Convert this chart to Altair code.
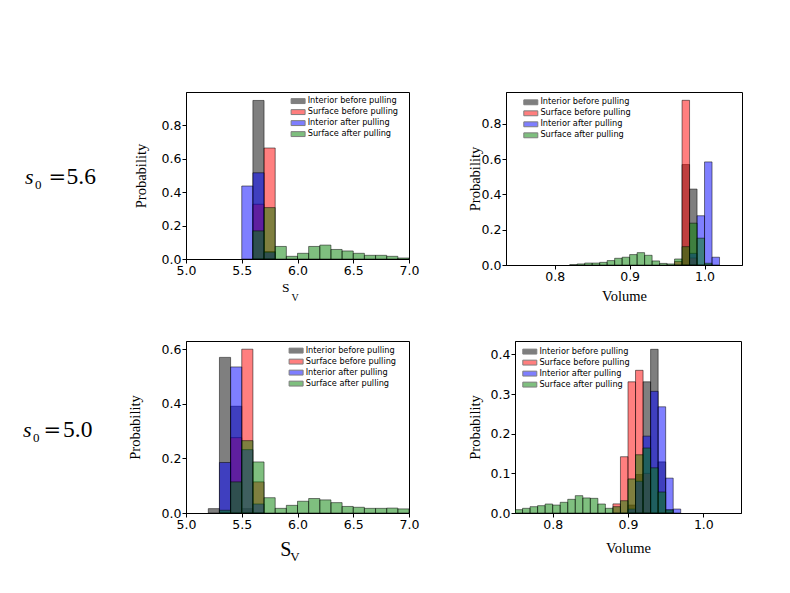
import altair as alt
import pandas as pd

SERIES = ["Interior before pulling", "Surface before pulling",
          "Interior after pulling", "Surface after pulling"]
FILLS = ["black", "red", "blue", "green"]

# ---- Panel A: S_V, s0 = 5.6 (bin width 0.1; values are bin left edges) ----
A_WIDTH = 0.1
A_IB_X = [5.6, 5.7]
A_IB_P = [0.947, 0.045]
A_SB_X = [5.6, 5.7]
A_SB_P = [0.327, 0.663]
A_IA_X = [5.5, 5.6, 5.7]
A_IA_P = [0.436, 0.515, 0.040]
A_SA_X = [5.6, 5.7, 5.8, 5.9, 6.0, 6.1, 6.2, 6.3, 6.4, 6.5, 6.6, 6.7, 6.8, 6.9]
A_SA_P = [0.168, 0.307, 0.075, 0.016, 0.034, 0.075, 0.083, 0.057, 0.048, 0.034,
          0.022, 0.022, 0.016, 0.006]

# ---- Panel B: Volume, s0 = 5.6 (bin width 0.01) ----
B_WIDTH = 0.01
B_IB_X = [0.97, 0.98]
B_IB_P = [0.569, 0.430]
B_SB_X = [0.96, 0.97, 0.98]
B_SB_P = [0.020, 0.933, 0.040]
B_IA_X = [0.98, 0.99, 1.00, 1.01]
B_IA_P = [0.066, 0.279, 0.584, 0.044]
B_SA_X = [0.82, 0.83, 0.84, 0.85, 0.86, 0.87, 0.88, 0.89, 0.90, 0.91, 0.92, 0.93,
          0.94, 0.95, 0.96, 0.97, 0.98, 0.99, 1.00]
B_SA_P = [0.002, 0.006, 0.011, 0.011, 0.015, 0.025, 0.038, 0.044, 0.059, 0.070,
          0.055, 0.023, 0.009, 0.006, 0.034, 0.104, 0.237, 0.152, 0.010]

# ---- Panel C: S_V, s0 = 5.0 ----
C_WIDTH = 0.1
C_IB_X = [5.2, 5.3, 5.4, 5.5]
C_IB_P = [0.016, 0.570, 0.391, 0.016]
C_SB_X = [5.4, 5.5, 5.6]
C_SB_P = [0.276, 0.600, 0.114]
C_IA_X = [5.3, 5.4, 5.5, 5.6]
C_IA_P = [0.185, 0.535, 0.232, 0.033]
C_SA_X = [5.3, 5.4, 5.5, 5.6, 5.7, 5.8, 5.9, 6.0, 6.1, 6.2, 6.3, 6.4, 6.5, 6.6,
          6.7, 6.8, 6.9]
C_SA_P = [0.010, 0.114, 0.265, 0.187, 0.056, 0.017, 0.028, 0.043, 0.053, 0.048,
          0.038, 0.024, 0.021, 0.017, 0.017, 0.018, 0.015]

# ---- Panel D: Volume, s0 = 5.0 ----
D_WIDTH = 0.01
D_IB_X = [0.90, 0.91, 0.92, 0.93, 0.94, 0.95]
D_IB_P = [0.020, 0.097, 0.331, 0.413, 0.129, 0.008]
D_SB_X = [0.88, 0.89, 0.90, 0.91, 0.92]
D_SB_P = [0.023, 0.142, 0.331, 0.360, 0.100]
D_IA_X = [0.90, 0.91, 0.92, 0.93, 0.94, 0.95, 0.96]
D_IA_P = [0.010, 0.080, 0.194, 0.307, 0.268, 0.088, 0.010]
D_SA_X = [0.75, 0.76, 0.77, 0.78, 0.79, 0.80, 0.81, 0.82, 0.83, 0.84, 0.85, 0.86,
          0.87, 0.88, 0.89, 0.90, 0.91, 0.92, 0.93, 0.94, 0.95]
D_SA_P = [0.0084, 0.0118, 0.016, 0.0185, 0.0227, 0.020, 0.027, 0.0345, 0.0438,
          0.038, 0.037, 0.0227, 0.0118, 0.016, 0.031, 0.086, 0.147, 0.164, 0.114,
          0.053, 0.008]

LEGEND_PATH = "M-2,-0.7L2,-0.7L2,0.7L-2,0.7Z"


def build_frame(groups, width):
    rows = []
    for name, xs, ps in zip(SERIES, *zip(*groups)):
        for x, p in zip(xs, ps):
            rows.append({"series": name, "start": x,
                         "end": round(x + width, 4), "p": p})
    return pd.DataFrame(rows)


def label(text, x, y, size, italic=False, font="Liberation Serif", opacity=1.0):
    return alt.Chart(pd.DataFrame({"k": [0]})).mark_text(
        text=text, font=font, fontSize=size,
        fontStyle="italic" if italic else "normal",
        align="left", baseline="alphabetic", color="black", opacity=opacity
    ).encode(x=alt.value(x), y=alt.value(y))


def panel(df, w, h, xdom, ydom, xvals, yvals, ytitle_x, leg_x, leg_y,
          xtitle=None, xtitle_y=None, extras=()):
    if xtitle:
        xaxis = alt.Axis(values=xvals, format=".1f", title=xtitle,
                         titleX=w / 2, titleY=xtitle_y,
                         titleBaseline="alphabetic", titleFontSize=14.5)
    else:
        xaxis = alt.Axis(values=xvals, format=".1f", title=None)
    yaxis = alt.Axis(values=yvals, format=".1f", title="Probability",
                     titleX=ytitle_x, titleY=h / 2, titleBaseline="middle",
                     titleAngle=270)
    bars = alt.Chart(df).mark_bar(
        fillOpacity=0.5, stroke="black", strokeOpacity=0.5, strokeWidth=1,
        clip=True
    ).encode(
        x=alt.X("start:Q", scale=alt.Scale(domain=xdom, nice=False, zero=False),
                axis=xaxis),
        x2="end:Q",
        y=alt.Y("p:Q", stack=None,
                scale=alt.Scale(domain=ydom, nice=False, zero=True), axis=yaxis),
        y2=alt.datum(0),
        color=alt.Color(
            "series:N", scale=alt.Scale(domain=SERIES, range=FILLS),
            legend=alt.Legend(
                title=None, orient="none", legendX=leg_x, legendY=leg_y,
                symbolType=LEGEND_PATH, symbolSize=49,
                symbolStrokeColor="black", symbolStrokeWidth=1,
                symbolOpacity=0.5, labelFont="DejaVu Sans", labelFontSize=8.2,
                labelColor="black", labelOffset=5.5, rowPadding=1, padding=0)),
    )
    return alt.layer(bars, *extras).properties(width=w, height=h)


dfA = build_frame([(A_IB_X, A_IB_P), (A_SB_X, A_SB_P), (A_IA_X, A_IA_P), (A_SA_X, A_SA_P)], A_WIDTH)
dfB = build_frame([(B_IB_X, B_IB_P), (B_SB_X, B_SB_P), (B_IA_X, B_IA_P), (B_SA_X, B_SA_P)], B_WIDTH)
dfC = build_frame([(C_IB_X, C_IB_P), (C_SB_X, C_SB_P), (C_IA_X, C_IA_P), (C_SA_X, C_SA_P)], C_WIDTH)
dfD = build_frame([(D_IB_X, D_IB_P), (D_SB_X, D_SB_P), (D_IA_X, D_IA_P), (D_SA_X, D_SA_P)], D_WIDTH)

SV_TICKS = [5.0, 5.5, 6.0, 6.5, 7.0]
VOL_TICKS = [0.8, 0.9, 1.0]

pA = panel(dfA, 223, 167, [5.0, 7.0], [0, 0.9975], SV_TICKS,
           [0, 0.2, 0.4, 0.6, 0.8], -45, 108, 5,
           extras=[label("s", -161, 92, 22, italic=True),
                   label("0", -151, 96.5, 13),
                   label("=", -137.5, 92, 21, font="DejaVu Serif"),
                   label("5.6", -119.5, 92, 23.5),
                   label("s", -163, 92, 22, opacity=0),
                   label("S", 96, 199.7, 13.5),
                   label("V", 105.5, 208.5, 10)])
pB = panel(dfB, 236, 173, [0.735, 1.05], [0, 0.98], VOL_TICKS,
           [0, 0.2, 0.4, 0.6, 0.8], -30.5, 20.7, 6.2,
           xtitle="Volume", xtitle_y=35)
pC = panel(dfC, 223, 172, [5.0, 7.0], [0, 0.63], SV_TICKS,
           [0, 0.2, 0.4, 0.6], -51, 106, 5.5,
           extras=[label("s", -163, 96, 22, italic=True),
                   label("0", -153, 101, 13),
                   label("=", -142.5, 96, 21, font="DejaVu Serif"),
                   label("5.0", -123, 96, 23.5),
                   label("S", 94.3, 215, 20),
                   label("V", 104.3, 220, 13)])
pD = panel(dfD, 226, 172, [0.75, 1.05], [0, 0.434], VOL_TICKS,
           [0, 0.1, 0.2, 0.3, 0.4], -39.5, 10.7, 6.5,
           xtitle="Volume", xtitle_y=39)

row1 = alt.hconcat(pA, pB, spacing=47).resolve_scale(color="independent").resolve_legend(color="independent")
row2 = alt.hconcat(pC, pD, spacing=47).resolve_scale(color="independent").resolve_legend(color="independent")

chart = alt.vconcat(row1, row2, spacing=37).resolve_scale(
    color="independent").resolve_legend(color="independent").properties(
    padding={"left": 14, "top": 83, "right": 0, "bottom": 0}
).configure_view(stroke="black", strokeWidth=1).configure_axis(
    labelFont="DejaVu Sans", labelFontSize=12.5, labelColor="black",
    domainColor="black", domainWidth=1, tickColor="black", tickWidth=1,
    tickSize=4, labelPadding=1, grid=False, labelFlush=False,
    labelOverlap=False, titleFont="Liberation Serif", titleFontSize=14.5,
    titleFontWeight="normal", titleColor="black"
)

chart.save("out.html", embed_options={"renderer": "svg", "actions": False})
